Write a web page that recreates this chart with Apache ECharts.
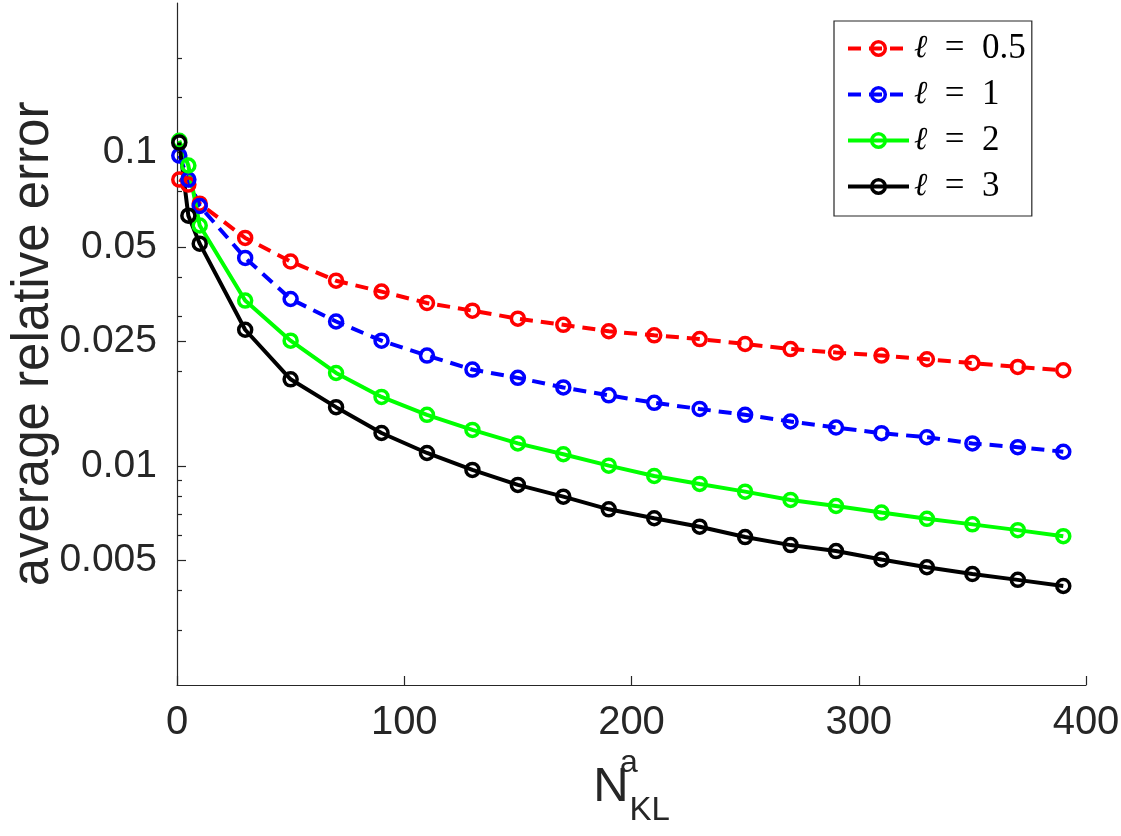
<!DOCTYPE html>
<html lang="en">
<head>
  <meta charset="UTF-8">
  <title>average relative error vs N_KL^a</title>
  <script src="https://cdn.jsdelivr.net/npm/echarts@6/dist/echarts.min.js"></script>
  <style>
    html, body { margin: 0; padding: 0; background: #fff; }
    #chart { width: 1121px; height: 836px; }
  </style>
</head>
<body>
  <div id="chart"></div>
  <script>
    // N_KL^a sample points
    const nKL = [1, 5, 10, 30, 50, 70, 90, 110, 130, 150, 170, 190, 210, 230, 250, 270, 290, 310, 330, 350, 370, 390];

    // average relative error, one array per correlation length
    const errL05 = [0.0820, 0.0790, 0.0687, 0.0534, 0.0449, 0.0390, 0.0360, 0.0331, 0.0313, 0.0295, 0.0282,
                    0.0269, 0.0261, 0.0254, 0.0245, 0.0236, 0.0230, 0.0225, 0.0219, 0.0213, 0.0207, 0.0202];
    const errL1  = [0.0978, 0.0820, 0.0675, 0.0461, 0.0341, 0.0289, 0.0251, 0.0225, 0.0203, 0.0191, 0.0178,
                    0.0168, 0.0159, 0.0152, 0.01456, 0.01386, 0.01326, 0.01272, 0.01235, 0.0118, 0.01148, 0.0111];
    const errL2  = [0.109, 0.0909, 0.0585, 0.0337, 0.0251, 0.0198, 0.0166, 0.01456, 0.01303, 0.0118, 0.0109,
                    0.01002, 0.00929, 0.00876, 0.00828, 0.00779, 0.00745, 0.0071, 0.00678, 0.00651, 0.00624, 0.00597];
    const errL3  = [0.1076, 0.0629, 0.0512, 0.0272, 0.0189, 0.0154, 0.01274, 0.0110, 0.00971, 0.00870, 0.00798,
                    0.00727, 0.00681, 0.0064, 0.00593, 0.00559, 0.00535, 0.00503, 0.00475, 0.00452, 0.00433, 0.00414];

    const legendNames = ['ℓ = 0.5', 'ℓ = 1', 'ℓ = 2', 'ℓ = 3'];

    // y tick labels (log axis) and minor ticks
    const yTickValues = [0.005, 0.01, 0.025, 0.05, 0.1];
    const yTickLabels = ['0.005', '0.01', '0.025', '0.05', '0.1'];
    const yMinorTicks = [0.003, 0.004, 0.006, 0.007, 0.008, 0.009, 0.02, 0.03, 0.04, 0.075, 0.15, 0.2];

    const axisColor = '#262626';

    function pairs(ys) {
      return nKL.map((x, i) => [x, ys[i]]);
    }

    function makeSeries(name, ys, color, dashed) {
      return {
        name: name,
        type: 'line',
        data: pairs(ys),
        symbol: 'circle',
        symbolSize: 13,
        itemStyle: { color: 'rgba(255,255,255,0)', borderColor: color, borderWidth: 3.5 },
        lineStyle: { color: color, width: 4, type: dashed ? [13, 8] : 'solid' },
        emphasis: { disabled: true },
        silent: true
      };
    }

    const chart = echarts.init(document.getElementById('chart'));
    chart.setOption({
      animation: false,
      backgroundColor: '#fff',
      grid: { left: 177, right: 35, top: 3, bottom: 151, outerBoundsMode: 'none', containLabel: false },
      legend: {
        orient: 'vertical',
        left: 834,
        top: 21,
        padding: [10, 6, 12, 12],
        itemWidth: 61,
        itemHeight: 17,
        itemGap: 11,
        borderColor: axisColor,
        borderWidth: 1.2,
        backgroundColor: '#fff',
        selectedMode: false,
        data: legendNames,
        lineStyle: { width: 4 },
        itemStyle: { borderWidth: 3.5 },
        formatter: function (name) {
          const rest = name.slice(1).replace(' = ', '\u2002=\u2002');
          return '{l|ℓ}{t|' + rest + '}';
        },
        textStyle: {
          lineHeight: 34,
          rich: {
            l: { fontFamily: 'DejaVu Serif', fontStyle: 'italic', fontSize: 32, color: '#000', lineHeight: 34 },
            t: { fontFamily: 'Liberation Serif', fontSize: 35, color: '#000', lineHeight: 34 }
          }
        }
      },
      xAxis: {
        type: 'value',
        min: 0,
        max: 400,
        interval: 100,
        name: '{n|N}{a|a}{k|KL}',
        nameLocation: 'middle',
        nameGap: 62,
        nameMoveOverlap: false,
        nameTextStyle: {
          rich: {
            n: { fontFamily: 'Liberation Sans', fontSize: 49, color: axisColor, lineHeight: 80, verticalAlign: 'middle' },
            a: { fontFamily: 'Liberation Sans', fontSize: 32, color: axisColor, lineHeight: 34, verticalAlign: 'top', width: 1 },
            k: { fontFamily: 'Liberation Sans', fontSize: 33, color: axisColor, lineHeight: 30, verticalAlign: 'bottom' }
          }
        },
        axisLine: { lineStyle: { color: axisColor, width: 1.2 } },
        axisTick: { inside: true, length: 9, lineStyle: { color: axisColor, width: 1.2 } },
        axisLabel: { fontFamily: 'Liberation Sans', fontSize: 40, color: axisColor, margin: 18 },
        splitLine: { show: false }
      },
      yAxis: [
        {
          type: 'log',
          logBase: 10,
          min: 0.002,
          max: 0.3,
          position: 'left',
          name: 'average relative error',
          nameLocation: 'middle',
          nameGap: 118,
          nameMoveOverlap: false,
          nameTextStyle: { fontFamily: 'Liberation Sans', fontSize: 51, color: axisColor },
          axisLine: { show: true, lineStyle: { color: axisColor, width: 1.2 } },
          axisTick: { show: true, inside: true, length: 9, customValues: yTickValues, lineStyle: { color: axisColor, width: 1.2 } },
          axisLabel: {
            customValues: yTickValues,
            fontFamily: 'Liberation Sans',
            fontSize: 39,
            color: axisColor,
            margin: 20,
            formatter: function (v) {
              let best = 0;
              yTickValues.forEach((t, i) => {
                if (Math.abs(Math.log(t / v)) < Math.abs(Math.log(yTickValues[best] / v))) best = i;
              });
              return yTickLabels[best];
            }
          },
          splitLine: { show: false },
          minorTick: { show: false }
        },
        {
          type: 'log',
          logBase: 10,
          min: 0.002,
          max: 0.3,
          position: 'left',
          axisLine: { show: false },
          axisTick: { show: true, inside: true, length: 5, customValues: yMinorTicks, lineStyle: { color: axisColor, width: 1.2 } },
          axisLabel: { show: false },
          splitLine: { show: false }
        }
      ],
      series: [
        makeSeries(legendNames[0], errL05, '#ff0000', true),
        makeSeries(legendNames[1], errL1, '#0000ff', true),
        makeSeries(legendNames[2], errL2, '#00ff00', false),
        makeSeries(legendNames[3], errL3, '#000000', false)
      ]
    });
  </script>
</body>
</html>
